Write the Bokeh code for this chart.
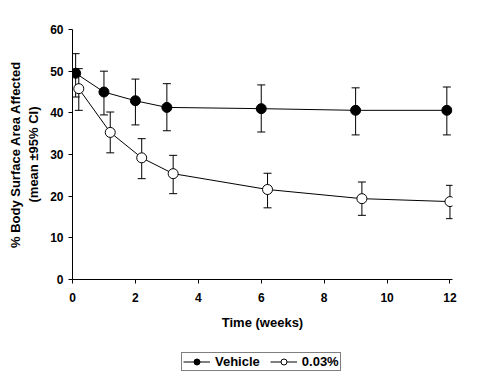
from bokeh.plotting import figure
from bokeh.layouts import column
from bokeh.models import Range1d, ColumnDataSource, Whisker, Legend, LegendItem, FixedTicker, TeeHead
from bokeh.embed import file_html
from bokeh.resources import INLINE

# Data
veh_t = [0.1, 1.0, 2.0, 3.0, 6.0, 9.0, 11.9]
veh_mean = [49.5, 45.0, 42.9, 41.3, 41.0, 40.6, 40.6]
veh_lo = [43.8, 39.5, 37.1, 35.7, 35.4, 34.7, 34.7]
veh_hi = [54.2, 50.0, 48.1, 47.0, 46.7, 46.0, 46.2]

drug_t = [0.2, 1.2, 2.2, 3.2, 6.2, 9.2, 12.0]
drug_mean = [45.8, 35.3, 29.2, 25.4, 21.6, 19.4, 18.7]
drug_lo = [40.6, 30.4, 24.2, 20.6, 17.2, 15.4, 14.6]
drug_hi = [50.6, 40.2, 33.8, 29.8, 25.5, 23.4, 22.6]

series_names = ["Vehicle", "0.03%"]
x_ticks = [0, 2, 4, 6, 8, 10, 12]
y_ticks = [0, 10, 20, 30, 40, 50, 60]

FONT = "Liberation Sans"

# ---- main chart ----
p = figure(width=473, height=340, output_backend="svg", toolbar_location=None,
           x_range=Range1d(0, 12.08), y_range=Range1d(0, 60),
           min_border_left=72, min_border_top=29, min_border_right=21, min_border_bottom=61)
p.grid.visible = False
p.outline_line_color = None
p.background_fill_color = "white"
p.border_fill_color = "white"

for ax in (p.xaxis[0], p.yaxis[0]):
    ax.axis_line_color = "black"
    ax.axis_line_width = 1
    ax.major_tick_line_color = "black"
    ax.major_tick_in = 0
    ax.major_tick_out = 4
    ax.minor_tick_line_color = None
    ax.major_label_text_font = FONT
    ax.major_label_text_font_style = "bold"
    ax.major_label_text_font_size = "12px"
    ax.major_label_text_color = "black"
    ax.axis_label_text_font = FONT
    ax.axis_label_text_font_style = "bold"
    ax.axis_label_text_font_size = "13px"
    ax.axis_label_text_color = "black"

p.xaxis.ticker = FixedTicker(ticks=x_ticks)
p.yaxis.ticker = FixedTicker(ticks=y_ticks)
p.xaxis.major_label_standoff = 9
p.yaxis.major_label_standoff = 5
p.xaxis.axis_label = "Time (weeks)"
p.xaxis.axis_label_standoff = 10
p.yaxis.axis_label = "% Body Surface Area Affected\n(mean \u00b195% CI)"
p.yaxis.axis_label_standoff = 6

veh_src = ColumnDataSource(dict(t=veh_t, m=veh_mean, lo=veh_lo, hi=veh_hi))
drug_src = ColumnDataSource(dict(t=drug_t, m=drug_mean, lo=drug_lo, hi=drug_hi))

p.line("t", "m", source=veh_src, line_color="black", line_width=1)
p.line("t", "m", source=drug_src, line_color="black", line_width=1)

for src in (veh_src, drug_src):
    w = Whisker(base="t", lower="lo", upper="hi", source=src,
                line_color="black", line_width=1,
                upper_head=TeeHead(size=8, line_color="black", line_width=1),
                lower_head=TeeHead(size=8, line_color="black", line_width=1))
    p.add_layout(w)

p.scatter("t", "m", source=veh_src, size=10, marker="circle",
          fill_color="black", line_color="black")
p.scatter("t", "m", source=drug_src, size=10, marker="circle",
          fill_color="white", line_color="black", line_width=1)

# ---- legend strip (same series, legend only; data lie outside its view) ----
q = figure(width=473, height=36, output_backend="svg", toolbar_location=None,
           x_range=Range1d(100, 101), y_range=Range1d(100, 101),
           x_axis_type=None, y_axis_type=None,
           min_border_left=0, min_border_right=0, min_border_top=0, min_border_bottom=0)
q.grid.visible = False
q.outline_line_color = None
q.background_fill_color = "white"
q.border_fill_color = "white"

lq1 = q.line(veh_t, veh_mean, line_color="black", line_width=1)
sq1 = q.scatter(veh_t, veh_mean, marker="circle", size=10, fill_color="black", line_color="black")
lq2 = q.line(drug_t, drug_mean, line_color="black", line_width=1)
sq2 = q.scatter(drug_t, drug_mean, marker="circle", size=10, fill_color="white", line_color="black")

legend = Legend(items=[LegendItem(label=series_names[0], renderers=[lq1, sq1]),
                       LegendItem(label=series_names[1], renderers=[lq2, sq2])],
                orientation="horizontal", location=(109, 5),
                border_line_color="black", border_line_width=1,
                background_fill_color="white", background_fill_alpha=1,
                label_text_font=FONT, label_text_font_style="bold",
                label_text_font_size="13px", label_text_color="black",
                glyph_width=27, glyph_height=15, label_height=15,
                label_standoff=5, spacing=10, padding=1, margin=0)
q.add_layout(legend, "center")

layout = column(p, q, spacing=0)
open("out.html", "w").write(file_html(layout, INLINE))
